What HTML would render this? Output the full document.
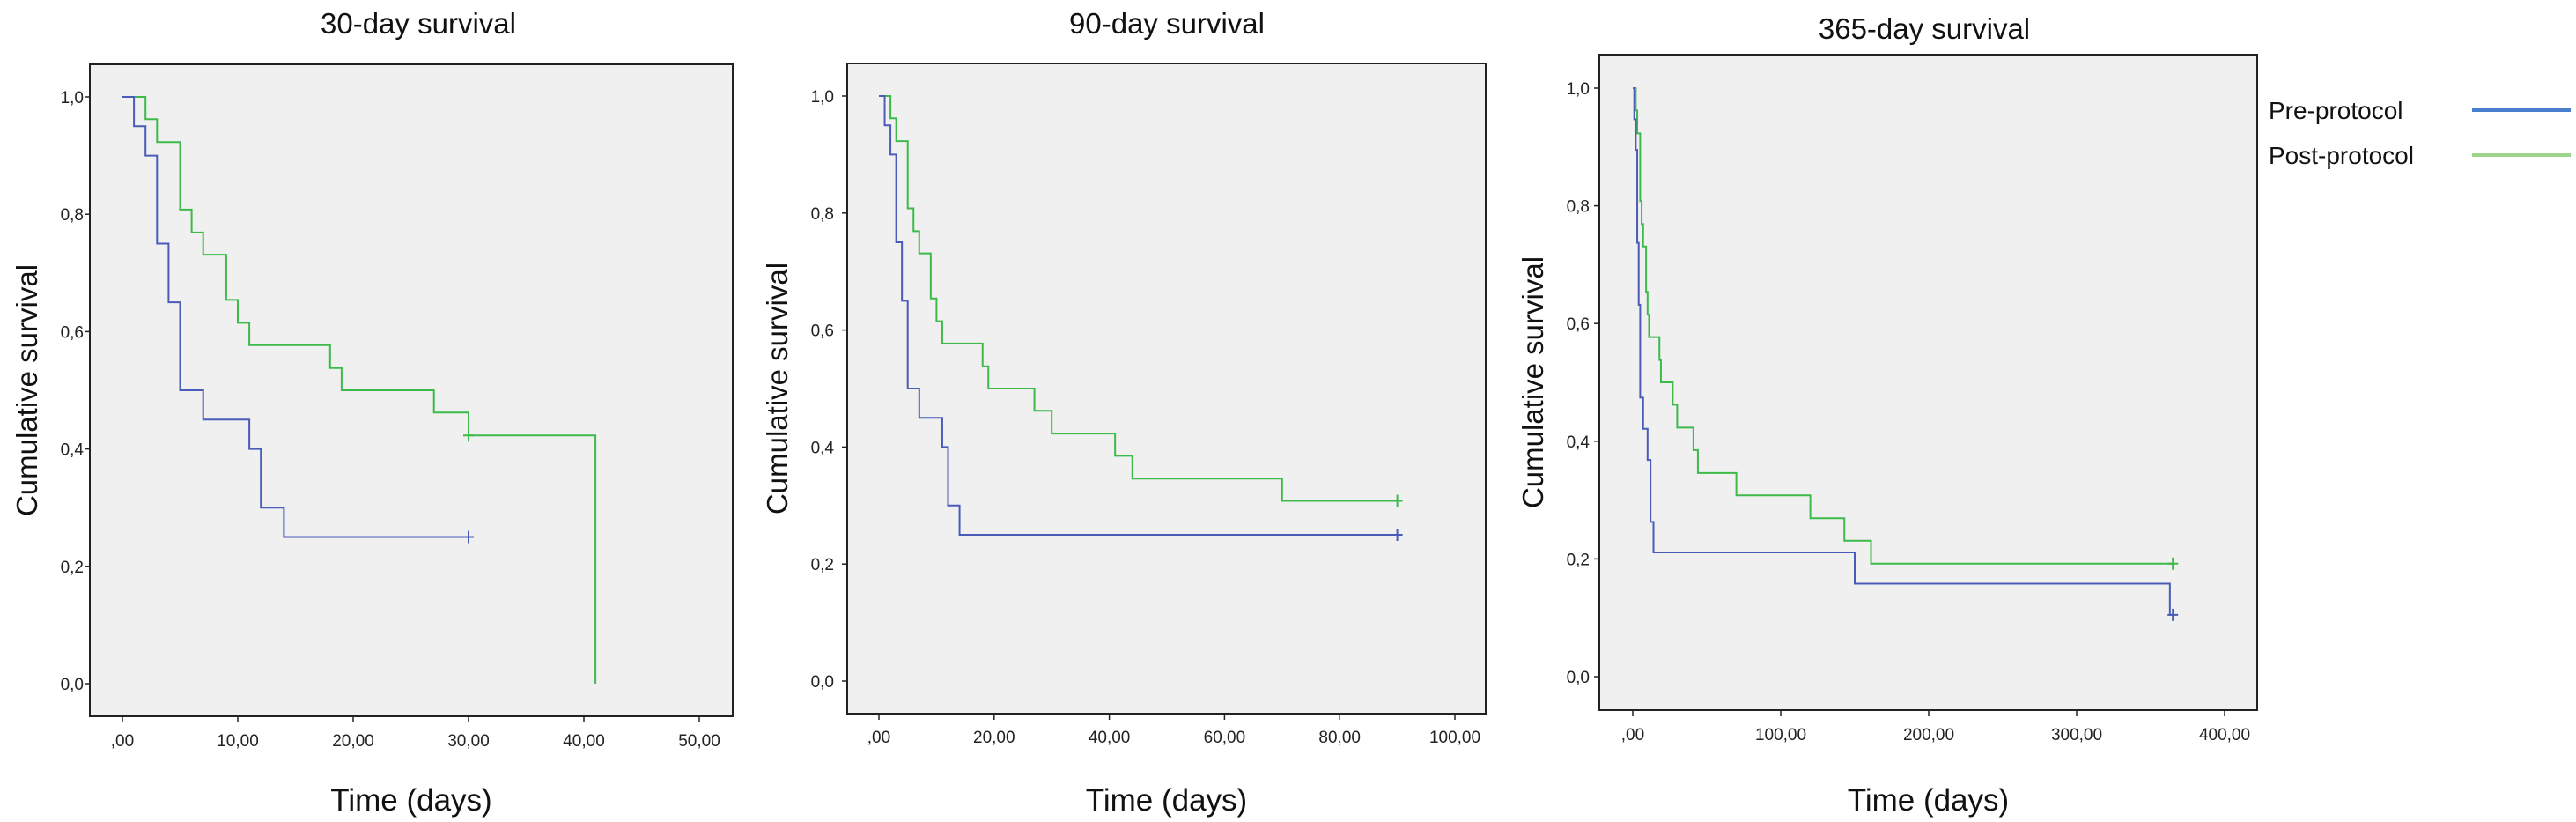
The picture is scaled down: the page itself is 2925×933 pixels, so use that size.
<!DOCTYPE html>
<html><head><meta charset="utf-8"><style>
html,body{margin:0;padding:0;background:#fff;}
svg{display:block;font-family:"Liberation Sans",Arial,sans-serif;}
</style></head><body>
<svg id="chart" width="2925" height="933" viewBox="0 0 2925 933"></svg>
<script>
// ---- data ----
const panelTitles = ["30-day survival", "90-day survival", "365-day survival"];
const xTicks1 = [0, 10, 20, 30, 40, 50];
const xTicks2 = [0, 20, 40, 60, 80, 100];
const xTicks3 = [0, 100, 200, 300, 400];
const yTicks = [0, 0.2, 0.4, 0.6, 0.8, 1.0];
// pre-protocol (blue) step times / survival
const preTimes1 = [0, 1, 2, 3, 4, 5, 7, 11, 12, 14, 30];
const preSurv1 = [1, 0.95, 0.90, 0.75, 0.65, 0.50, 0.45, 0.40, 0.30, 0.25, 0.25];
const preTimes2 = [0, 1, 2, 3, 4, 5, 7, 11, 12, 14, 90];
const preSurv2 = [1, 0.95, 0.90, 0.75, 0.65, 0.50, 0.45, 0.40, 0.30, 0.25, 0.25];
const preTimes3 = [0, 1, 2, 3, 4, 5, 7, 10, 12, 14, 150, 363, 365];
const preSurv3 = [1, 0.947, 0.895, 0.737, 0.632, 0.474, 0.421, 0.368, 0.263, 0.211, 0.158, 0.105, 0.105];
// post-protocol (green)
const postTimes1 = [0, 2, 3, 5, 6, 7, 9, 10, 11, 18, 19, 27, 30, 41];
const postSurv1 = [1, 0.962, 0.923, 0.808, 0.769, 0.731, 0.654, 0.615, 0.577, 0.538, 0.50, 0.462, 0.423, 0];
const postTimes2 = [0, 2, 3, 5, 6, 7, 9, 10, 11, 18, 19, 27, 30, 41, 44, 70, 90];
const postSurv2 = [1, 0.962, 0.923, 0.808, 0.769, 0.731, 0.654, 0.615, 0.577, 0.538, 0.50, 0.462, 0.423, 0.385, 0.346, 0.308, 0.308];
const postTimes3 = [0, 2, 3, 5, 6, 7, 9, 10, 11, 18, 19, 27, 30, 41, 44, 70, 120, 143, 161, 365];
const postSurv3 = [1, 0.962, 0.923, 0.808, 0.769, 0.731, 0.654, 0.615, 0.577, 0.538, 0.50, 0.462, 0.423, 0.385, 0.346, 0.308, 0.269, 0.231, 0.192, 0.192];
const preCensor = [30, 90, 365];
const postCensor = [30, 90, 365];
const legendLabels = ["Pre-protocol", "Post-protocol"];

// ---- layout ----
const panels = [
 {fx0:102,fx1:832,fy0:73,fy1:813,x0:139,xPer:13.1,yTop:110,yBot:776,ticks:xTicks1,pre:[preTimes1,preSurv1],post:[postTimes1,postSurv1],tcx:475,tly:847,ylx:30,ytr:95,ty:38},
 {fx0:962,fx1:1687,fy0:72,fy1:810,x0:998,xPer:(1652-998)/100,yTop:109,yBot:773,ticks:xTicks2,pre:[preTimes2,preSurv2],post:[postTimes2,postSurv2],tcx:1325,tly:843,ylx:882,ytr:947,ty:38},
 {fx0:1816,fx1:2563,fy0:62,fy1:806,x0:1854,xPer:168/100,yTop:100,yBot:768,ticks:xTicks3,pre:[preTimes3,preSurv3],post:[postTimes3,postSurv3],tcx:2185,tly:840,ylx:1740,ytr:1805,ty:44}
];
const NS = "http://www.w3.org/2000/svg";
const svg = document.getElementById('chart');
function mk(tag, attrs, parent, text){
  const e = document.createElementNS(NS, tag);
  for (const k in attrs) e.setAttribute(k, attrs[k]);
  if (text !== undefined) e.textContent = text;
  (parent||svg).appendChild(e);
  return e;
}
function fmtX(v){ return v===0 ? ",00" : v + ",00"; }
function fmtY(v){ return v.toFixed(1).replace('.', ','); }

panels.forEach((p, i) => {
  const g = mk('g', {});
  
  
  const xs = v => p.x0 + v * p.xPer;
  const ys = v => p.yBot - v * (p.yBot - p.yTop);
  const title = mk('text', {x:p.tcx, y:p.ty, 'font-size':33, 'text-anchor':'middle', fill:'#111'}, g, panelTitles[i]);
  
  
  const bg = mk('rect', {x:p.fx0, y:p.fy0, width:p.fx1-p.fx0, height:p.fy1-p.fy0, fill:'#f0f0f0', stroke:'#222', 'stroke-width':2}, g);
  
  
  yTicks.forEach(t => {
    const y = ys(t);
    const tk = mk('line', {x1:p.fx0-6, x2:p.fx0, y1:y, y2:y, stroke:'#222', 'stroke-width':1.5}, g);
    
    
    const lb = mk('text', {x:p.ytr, y:y+7, 'font-size':19, 'text-anchor':'end', fill:'#222'}, g, fmtY(t));
    
    
  });
  p.ticks.forEach(t => {
    const x = xs(t);
    const tk = mk('line', {x1:x, x2:x, y1:p.fy1, y2:p.fy1+7, stroke:'#222', 'stroke-width':1.5}, g);
    
    
    const lb = mk('text', {x:x, y:p.tly, 'font-size':19, 'text-anchor':'middle', fill:'#222'}, g, fmtX(t));
    
    
  });
  const xl = mk('text', {x:(p.fx0+p.fx1)/2, y:920, 'font-size':35, 'text-anchor':'middle', fill:'#111'}, g, 'Time (days)');
  
  
  const cy = (p.yTop + p.yBot)/2;
  const yl = mk('text', {x:p.ylx, y:cy, 'font-size':33, 'text-anchor':'middle', fill:'#111', transform:'rotate(-90 '+p.ylx+' '+cy+')', dy:'12'}, g, 'Cumulative survival');
  
  

  function stepPath(times, surv){
    let d = 'M' + xs(times[0]) + ' ' + ys(surv[0]);
    for (let k = 1; k < times.length; k++){
      d += ' H' + xs(times[k]) + ' V' + ys(surv[k]);
    }
    return d;
  }
  const postLine = mk('path', {d:stepPath(p.post[0], p.post[1]), fill:'none', stroke:'#3dba4a', 'stroke-width':2}, g);
  
  
  const preLine = mk('path', {d:stepPath(p.pre[0], p.pre[1]), fill:'none', stroke:'#4a5cb8', 'stroke-width':2}, g);
  
  
  function censor(t, times, surv, color, name){
    let s = surv[0];
    for (let k = 0; k < times.length; k++) if (times[k] <= t) s = surv[k];
    const x = xs(t), y = ys(s);
    const c = mk('path', {d:'M'+(x-6)+' '+y+' H'+(x+6)+' M'+x+' '+(y-7)+' V'+(y+7), stroke:color, 'stroke-width':2, fill:'none'}, g);
    
    
  }
  censor(postCensor[i], p.post[0], p.post[1], '#3dba4a', 'post-censor-mark');
  censor(preCensor[i], p.pre[0], p.pre[1], '#4a5cb8', 'pre-censor-mark');
});

// legend
const legendColors = ['#4a7fd0', '#9bd48a'];
legendLabels.forEach((lab, k) => {
  const ly = 125 + k*51;
  const t = mk('text', {x:2576, y:ly+10, 'font-size':28, fill:'#111'}, svg, lab);
  
  
  const l = mk('line', {x1:2807, x2:2919, y1:ly, y2:ly, stroke:legendColors[k], 'stroke-width':4}, svg);
  
  
});
</script>
</body></html>
